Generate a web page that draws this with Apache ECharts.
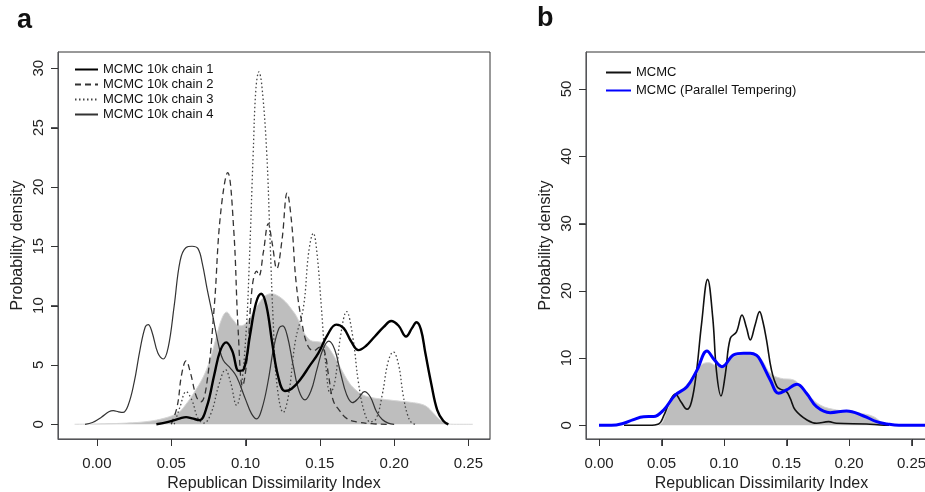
<!DOCTYPE html>
<html><head><meta charset="utf-8">
<script src="https://cdn.jsdelivr.net/npm/echarts@6/dist/echarts.min.js"></script>
<style>html,body{margin:0;padding:0;background:#fff}#c{width:925px;height:492px}</style>
</head><body><div id="c"></div>
<script>
// ---- Panel a data: [Republican Dissimilarity Index, density]
const grayA = [[-0.015,0],[0.0,0.03],[0.02,0.1],[0.035,0.25],[0.045,0.5],[0.052,0.8],[0.056,1.1],[0.060,1.7],[0.065,2.6],[0.0716,4.0],[0.076,5.4],[0.080,7.2],[0.084,8.9],[0.0873,9.45],[0.091,8.9],[0.0962,8.3],[0.0985,8.35],[0.103,9.0],[0.108,10.0],[0.113,10.8],[0.1176,11.0],[0.122,10.8],[0.127,10.3],[0.1315,9.6],[0.1344,9.07],[0.138,8.1],[0.141,7.4],[0.145,7.0],[0.149,6.95],[0.153,6.8],[0.157,6.26],[0.1635,4.85],[0.170,3.45],[0.175,2.8],[0.179,2.47],[0.185,2.25],[0.190,2.15],[0.200,2.0],[0.213,1.82],[0.218,1.7],[0.222,1.48],[0.226,1.0],[0.231,0.36],[0.236,0.05],[0.240,0],[0.253,0]];
const chain1 = [[0.040,0],[0.048,0.2],[0.056,0.5],[0.060,0.6],[0.064,0.5],[0.069,0.35],[0.074,1.5],[0.079,4.2],[0.083,6.2],[0.087,6.9],[0.091,6.2],[0.0955,4.5],[0.099,4.7],[0.103,7.5],[0.107,10.2],[0.1105,11.0],[0.114,10.0],[0.118,6.8],[0.122,4.0],[0.1265,2.8],[0.131,3.0],[0.137,3.8],[0.143,4.9],[0.149,6.0],[0.155,7.5],[0.161,8.4],[0.166,8.1],[0.171,7.0],[0.176,6.25],[0.181,6.6],[0.187,7.4],[0.193,8.2],[0.198,8.7],[0.203,8.3],[0.208,7.4],[0.212,8.1],[0.215,8.6],[0.218,8.0],[0.221,6.0],[0.225,3.4],[0.229,1.2],[0.233,0.3],[0.2365,0]];
const chain2 = [[0.050,0],[0.054,1.5],[0.057,4.2],[0.060,5.35],[0.063,4.3],[0.067,2.3],[0.070,1.9],[0.074,3.5],[0.079,10],[0.083,17.5],[0.088,21.2],[0.092,16.5],[0.095,8],[0.098,3.2],[0.101,5.5],[0.1045,11.6],[0.1075,12.9],[0.109,12.5],[0.112,14.5],[0.1153,16.9],[0.118,15.2],[0.121,13.1],[0.1245,15.5],[0.128,19.5],[0.131,17],[0.134,12],[0.138,8.5],[0.142,6.6],[0.146,6.2],[0.150,6.5],[0.153,6.2],[0.156,4.0],[0.159,2.0],[0.163,1.2],[0.168,0.5],[0.175,0.2],[0.185,0.05],[0.195,0]];
const chain3 = [[0.052,0],[0.056,1.5],[0.060,2.75],[0.064,2.0],[0.068,0.5],[0.072,0.1],[0.077,1.0],[0.082,3.3],[0.0865,4.6],[0.090,3.5],[0.094,1.6],[0.097,3],[0.1005,8],[0.1025,13.5],[0.1052,23],[0.107,28.3],[0.109,29.7],[0.111,28.5],[0.1142,23],[0.1165,15.5],[0.1185,9],[0.121,3.5],[0.1254,1.0],[0.129,2.5],[0.1335,7],[0.139,9.9],[0.1425,14.5],[0.1456,16.1],[0.148,14.5],[0.151,9.9],[0.154,5],[0.157,2.6],[0.160,3.5],[0.164,7.5],[0.168,9.5],[0.172,7.5],[0.176,3.5],[0.180,1.0],[0.184,0.2],[0.188,0.5],[0.192,2.5],[0.196,5.3],[0.1994,6.1],[0.203,5.0],[0.206,2.5],[0.209,0.8],[0.212,0.1],[0.215,0]];
const chain4 = [[-0.008,0],[-0.003,0.15],[0.003,0.6],[0.008,1.05],[0.011,1.15],[0.0145,1.05],[0.0175,1.0],[0.021,1.6],[0.025,3.5],[0.029,6.3],[0.0325,8.2],[0.0345,8.4],[0.037,7.8],[0.041,6.0],[0.0446,5.5],[0.048,6.5],[0.052,10],[0.056,13.8],[0.060,14.9],[0.064,15.0],[0.068,14.8],[0.071,13.5],[0.074,11.5],[0.078,9.1],[0.082,6.6],[0.085,5.4],[0.090,4.7],[0.094,4.0],[0.100,2.1],[0.104,0.9],[0.1075,0.45],[0.111,1.3],[0.115,3.5],[0.119,6.5],[0.1225,8.1],[0.125,8.3],[0.128,7.5],[0.132,5],[0.136,2.8],[0.140,2.05],[0.144,2.8],[0.148,4.6],[0.152,6.3],[0.156,7.0],[0.160,6.3],[0.164,4.3],[0.168,2.5],[0.172,1.82],[0.176,2.2],[0.180,2.75],[0.184,2.3],[0.188,1.1],[0.192,0.4],[0.196,0.1],[0.200,0]];
// ---- Panel b data
const grayB = [[0.048,0],[0.051,0.5],[0.054,2],[0.0597,4.3],[0.066,5.2],[0.073,6.7],[0.078,8.0],[0.0837,9.2],[0.088,9.3],[0.093,8.9],[0.098,8.7],[0.103,9.4],[0.1077,10.2],[0.1157,10.6],[0.121,10.7],[0.126,10.5],[0.131,9.5],[0.137,7.74],[0.145,7.0],[0.1557,6.74],[0.161,5.8],[0.166,4.76],[0.177,3.0],[0.190,2.28],[0.209,1.79],[0.2197,1.28],[0.2264,0.39],[0.232,0]];
const mcmc = [[0.02,0],[0.04,0],[0.0477,0.2],[0.052,1.5],[0.056,3.3],[0.061,4.66],[0.0655,3.5],[0.0704,2.38],[0.074,3.5],[0.078,8],[0.082,15],[0.0869,21.7],[0.091,16],[0.094,8],[0.0976,4.36],[0.101,7.5],[0.105,12.9],[0.110,13.9],[0.1144,16.4],[0.118,14.5],[0.121,12.7],[0.125,15],[0.1285,16.9],[0.131,15.5],[0.134,12.7],[0.138,8.2],[0.1424,5.74],[0.146,5.3],[0.150,5.0],[0.153,4.0],[0.157,2.28],[0.1664,0.79],[0.174,0.3],[0.1837,0.54],[0.190,0.3],[0.214,0.2],[0.225,0.05],[0.232,0]];
const mcmcPT = [[0,0],[0.010,0],[0.0197,0.3],[0.027,0.8],[0.0357,1.28],[0.0437,1.3],[0.0517,2.28],[0.061,4.5],[0.0704,5.74],[0.0784,8.2],[0.0864,11.05],[0.092,9.8],[0.0984,8.72],[0.1077,10.46],[0.1157,10.7],[0.121,10.7],[0.126,10.4],[0.129,9.72],[0.137,6.74],[0.1437,4.76],[0.150,5.25],[0.1584,6.1],[0.166,4.76],[0.174,2.77],[0.185,1.88],[0.198,2.13],[0.2117,1.38],[0.222,0.54],[0.2304,0.2],[0.240,0],[0.2704,0]];
// ---- Tick labels
const xTicks = [0, 0.05, 0.10, 0.15, 0.20, 0.25];
const yTicksA = [0, 5, 10, 15, 20, 25, 30];
const yTicksB = [0, 10, 20, 30, 40, 50];
const xTitle = 'Republican Dissimilarity Index';
const yTitle = 'Probability density';

const FONT = 'Liberation Sans, Arial, Helvetica, sans-serif';
const chart = echarts.init(document.getElementById('c'), null, {renderer: 'canvas'});
const xRange = [[-0.0262, 0.2645], [-0.0104, 0.2704]];
const yRange = [[-1.24, 31.37], [-2.04, 55.5]];
const gridBox = [{left: 58, top: 52, width: 432, height: 387}, {left: 586, top: 52, width: 351, height: 387}];

function xAxisCfg(gi) {
  return {
    type: 'value', gridIndex: gi, min: xRange[gi][0], max: xRange[gi][1],
    splitLine: {show: false}, axisLine: {show: true, onZero: false},
    axisTick: {show: true, length: 7, customValues: xTicks},
    axisLabel: {customValues: xTicks, formatter: v => v.toFixed(2), fontSize: 15, color: '#222', fontFamily: FONT, margin: 17},
    name: xTitle, nameLocation: 'middle', nameGap: 30,
    nameTextStyle: {fontSize: 16, color: '#222', fontFamily: FONT}
  };
}
function yAxisCfg(gi, ticks) {
  return {
    type: 'value', gridIndex: gi, min: yRange[gi][0], max: yRange[gi][1],
    splitLine: {show: false}, axisLine: {show: true, onZero: false},
    axisTick: {show: true, length: 7, customValues: ticks},
    axisLabel: {customValues: ticks, rotate: 90, fontSize: 15, color: '#222', fontFamily: FONT, margin: 12},
    name: yTitle, nameLocation: 'middle', nameGap: 32,
    nameTextStyle: {fontSize: 16, color: '#222', fontFamily: FONT}
  };
}
function line(name, data, xi, color, width, type, z) {
  return {
    name: name, type: 'line', data: data, xAxisIndex: xi, yAxisIndex: xi,
    symbol: 'none', smooth: 0.4, z: z || 3,
    lineStyle: {color: color, width: width, type: type}, itemStyle: {color: color},
    emphasis: {disabled: true}
  };
}
function area(data, xi) {
  return {
    type: 'line', data: data, xAxisIndex: xi, yAxisIndex: xi, symbol: 'none',
    smooth: 0.4, z: 1,
    lineStyle: {color: '#d6d6d6', width: 1}, areaStyle: {color: '#bebebe', opacity: 1, origin: 0},
    emphasis: {disabled: true}
  };
}
const hiddenSymbol = {color: 'rgba(0,0,0,0)', borderColor: 'rgba(0,0,0,0)', borderWidth: 0};
const letters = [
  {type: 'text', left: 17, top: 7, style: {text: 'a', font: 'bold 27px ' + FONT, fill: '#111'}},
  {type: 'text', left: 537, top: 5, style: {text: 'b', font: 'bold 27px ' + FONT, fill: '#111'}}
];

chart.setOption({
  animation: false,
  backgroundColor: '#fff',
  textStyle: {fontFamily: FONT},
  grid: gridBox.map(g => Object.assign({show: true, borderColor: '#333', borderWidth: 1, backgroundColor: 'transparent', outerBoundsMode: 'none', containLabel: false}, g)),
  xAxis: [xAxisCfg(0), xAxisCfg(1)],
  yAxis: [yAxisCfg(0, yTicksA), yAxisCfg(1, yTicksB)],
  legend: [
    {data: ['MCMC 10k chain 1', 'MCMC 10k chain 2', 'MCMC 10k chain 3', 'MCMC 10k chain 4'],
     orient: 'vertical', left: 69, top: 58, itemWidth: 23, itemHeight: 10, itemGap: 2,
     itemStyle: hiddenSymbol,
     textStyle: {fontSize: 13, color: '#111', fontFamily: FONT}, selectedMode: false},
    {data: ['MCMC', 'MCMC (Parallel Tempering)'],
     orient: 'vertical', left: 600, top: 61, itemWidth: 25, itemHeight: 10, itemGap: 5,
     itemStyle: hiddenSymbol,
     textStyle: {fontSize: 13, color: '#111', fontFamily: FONT}, selectedMode: false}
  ],
  graphic: letters,
  series: [
    area(grayA, 0),
    line('MCMC 10k chain 4', chain4, 0, '#333', 1.2, 'solid'),
    line('MCMC 10k chain 3', chain3, 0, '#444', 1.3, [1.5, 2.5]),
    line('MCMC 10k chain 2', chain2, 0, '#333', 1.3, [6, 4]),
    line('MCMC 10k chain 1', chain1, 0, '#000', 2.4, 'solid', 4),
    area(grayB, 1),
    line('MCMC', mcmc, 1, '#111', 1.6, 'solid'),
    line('MCMC (Parallel Tempering)', mcmcPT, 1, '#0000ff', 3, 'solid', 4)
  ]
});

// Extra axis tick marks (backup in case axisTick is not drawn), positioned via the grid's scale
function toPx(gi, x, y) {
  let p = null;
  try { p = chart.convertToPixel({gridIndex: gi}, [x, y]); } catch (e) { p = null; }
  if (!p || !isFinite(p[0]) || !isFinite(p[1])) {
    const g = gridBox[gi];
    p = [g.left + (x - xRange[gi][0]) / (xRange[gi][1] - xRange[gi][0]) * g.width,
         g.top + g.height - (y - yRange[gi][0]) / (yRange[gi][1] - yRange[gi][0]) * g.height];
  }
  return p;
}
const tickEls = [];
const tickStyle = {stroke: '#333', lineWidth: 1};
[[0, yTicksA], [1, yTicksB]].forEach(([gi, yt]) => {
  xTicks.forEach(v => {
    const p = toPx(gi, v, yRange[gi][0]);
    const px = Math.round(p[0]) + 0.5, py = Math.round(p[1]);
    tickEls.push({type: 'line', z: 100, silent: true, shape: {x1: px, y1: py, x2: px, y2: py + 7}, style: tickStyle});
  });
  yt.forEach(v => {
    const p = toPx(gi, xRange[gi][0], v);
    const px = Math.round(p[0]), py = Math.round(p[1]) + 0.5;
    tickEls.push({type: 'line', z: 100, silent: true, shape: {x1: px - 7, y1: py, x2: px, y2: py}, style: tickStyle});
  });
});
chart.setOption({graphic: letters.concat(tickEls)});
</script>
</body></html>
